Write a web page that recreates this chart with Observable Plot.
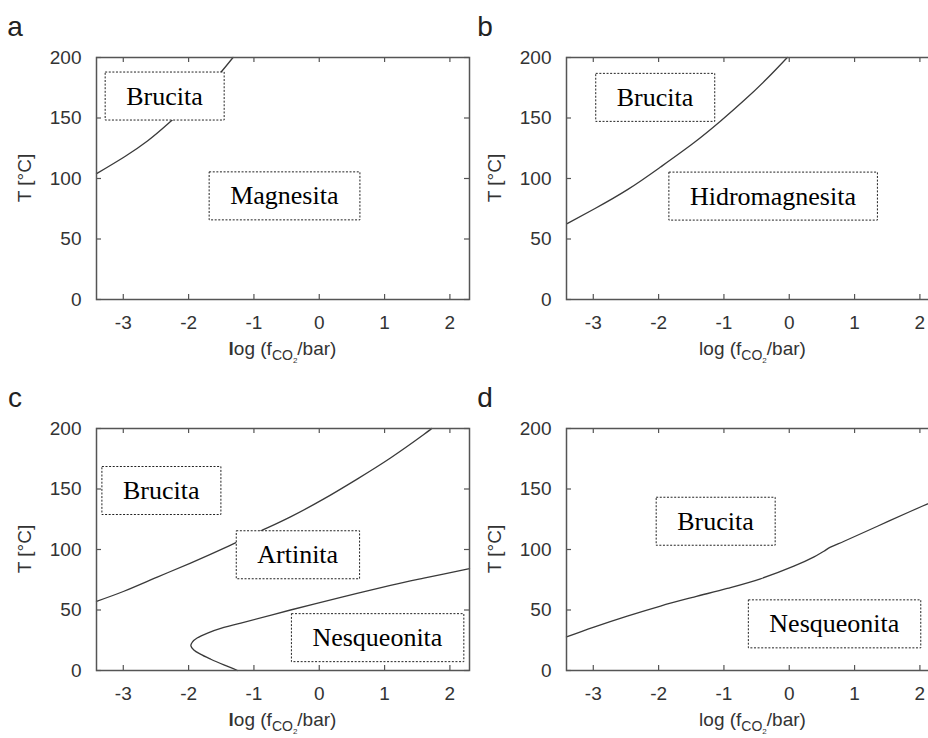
<!DOCTYPE html>
<html>
<head>
<meta charset="utf-8">
<script src="https://cdn.jsdelivr.net/npm/d3@7"></script>
<script src="https://cdn.jsdelivr.net/npm/@observablehq/plot@0.6"></script>
<style>
  html, body { margin: 0; padding: 0; background: #fff; overflow: hidden; }
  #fig { position: relative; width: 942px; height: 738px; }
  #fig svg { position: absolute; }
</style>
</head>
<body>
<div id="fig"></div>
<script>
// ---------- shared axes ----------
const xTicks = [-3, -2, -1, 0, 1, 2];
const yTicks = [0, 50, 100, 150, 200];
const xDomain = [-3.41, 2.30];
const yDomain = [0, 200];

// ---------- panel a ----------
const aCurveX = [-3.41, -2.98, -2.63, -2.32, -2.0, -1.75, -1.55, -1.32];
const aCurveT = [104, 118, 131, 145, 161, 174, 185, 200];
const aLabels = ["Brucita", "Magnesita"];
const aLabelX = [-2.37, -0.535];
const aLabelT = [168, 85.5];

// ---------- panel b ----------
const bCurveX = [-3.40, -2.98, -2.47, -1.97, -1.46, -1.05, -0.69, -0.34, -0.03];
const bCurveT = [62.7, 75, 91, 109.5, 129.5, 147.5, 164.6, 182.6, 200];
const bLabels = ["Brucita", "Hidromagnesita"];
const bLabelX = [-2.055, -0.25];
const bLabelT = [166.9, 85.3];

// ---------- panel c ----------
const cUpperX = [-3.41, -2.99, -2.48, -1.97, -1.38, -0.90, -0.44, 0.07, 0.58, 1.09, 1.60, 1.72];
const cUpperT = [57.2, 65.5, 77.2, 88.8, 103, 115.2, 127, 141.8, 158.2, 175.6, 195, 200];
const cLowerX = [-1.25, -1.46, -1.66, -1.82, -1.92, -1.965, -1.94, -1.87, -1.71, -1.46, -1.20, -0.44, 0.33, 1.09, 1.60, 2.30];
const cLowerT = [0, 4.6, 9.3, 13.5, 17.0, 20.4, 23.7, 26.8, 30.9, 35.6, 39.2, 50, 60.5, 70.3, 76.3, 84.2];
const cLabels = ["Brucita", "Artinita", "Nesqueonita"];
const cLabelX = [-2.42, -0.33, 0.89];
const cLabelT = [148.6, 95.5, 27];

// ---------- panel d ----------
const dCurveX = [-3.41, -2.99, -2.48, -1.97, -1.46, -0.95, -0.44, 0.07, 0.38, 0.53, 0.63, 0.84, 1.35, 1.86, 2.30];
const dCurveT = [27.7, 35.9, 45, 53.3, 60.7, 67.8, 75.8, 86.2, 93.9, 98.6, 101.9, 106.8, 119.2, 131.6, 142];
const dLabels = ["Brucita", "Nesqueonita"];
const dLabelX = [-1.13, 0.69];
const dLabelT = [123.2, 38.4];

// ---------- helpers ----------
const zip = (xs, ts) => xs.map((x, i) => ({x, t: ts[i]}));
const zipLabels = (names, xs, ts) => names.map((name, i) => ({name, x: xs[i], t: ts[i]}));

const SANS = "'Liberation Sans', Arial, Helvetica, sans-serif";
const SERIF = "'Liberation Serif', 'Times New Roman', serif";
const hyphen = d => String(d);

function makePanel({left, top, letter, curves, labels, boldL}) {
  const W = 472, H = 369;
  const mL = 96, mT = top === 0 ? 57 : 58;
  const frameW = 373, frameH = 242;
  const mR = W - mL - frameW, mB = H - mT - frameH;

  const plot = Plot.plot({
    width: W, height: H,
    marginLeft: mL, marginRight: mR, marginTop: mT, marginBottom: mB,
    x: {domain: xDomain},
    y: {domain: yDomain},
    style: {fontFamily: SANS, fontSize: "19px", color: "#333", background: "transparent", overflow: "visible"},
    marks: [
      Plot.axisX(xTicks, {anchor: "bottom", tickSize: 0, tickPadding: 16, label: null, fontSize: 19, fill: "#333", tickFormat: hyphen}),
      Plot.axisY(yTicks, {anchor: "left", tickSize: 0, tickPadding: 15, label: null, fontSize: 19, fill: "#333", tickFormat: hyphen}),
      // inward ticks on all four sides
      Plot.tickX(xTicks, {x: d => d, insetTop: frameH - 5, stroke: "#555", strokeWidth: 1.2}),
      Plot.tickX(xTicks, {x: d => d, insetBottom: frameH - 5, stroke: "#555", strokeWidth: 1.2}),
      Plot.tickY(yTicks, {y: d => d, insetRight: frameW - 5, stroke: "#555", strokeWidth: 1.2}),
      Plot.tickY(yTicks, {y: d => d, insetLeft: frameW - 5, stroke: "#555", strokeWidth: 1.2}),
      ...curves.map(c => Plot.line(c.data, {x: "x", y: "t", curve: c.curve, stroke: "#3a3a3a", strokeWidth: 1.3})),
      Plot.frame({stroke: "#555", strokeWidth: 1.5}),
      Plot.text(labels, {x: "x", y: "t", text: "name", fontFamily: SERIF, fontSize: 26, fill: "#000", lineAnchor: "middle", textAnchor: "middle"})
    ]
  });

  plot.style.left = left + "px";
  plot.style.top = top + "px";
  document.getElementById("fig").appendChild(plot);

  const svg = d3.select(plot);
  const svgRect = plot.getBoundingClientRect();

  // dashed boxes behind the region labels
  const textG = plot.querySelector('g[aria-label="text"]');
  if (textG) {
    const boxG = document.createElementNS("http://www.w3.org/2000/svg", "g");
    textG.parentNode.insertBefore(boxG, textG);
    textG.querySelectorAll("text").forEach(t => {
      const r = t.getBoundingClientRect();
      const cx = r.left - svgRect.left + r.width / 2;
      const cy = r.top - svgRect.top + r.height / 2;
      const bw = r.width + 42, bh = 48;
      d3.select(boxG).append("rect")
        .attr("x", cx - bw / 2).attr("y", cy - bh / 2)
        .attr("width", bw).attr("height", bh)
        .attr("fill", "#fff").attr("stroke", "#222")
        .attr("stroke-width", 1).attr("stroke-dasharray", "2,1.6");
    });
  }

  // panel letter
  svg.append("text")
    .attr("x", 15).attr("y", mT - 21)
    .attr("font-family", SANS).attr("font-size", 28).attr("fill", "#222")
    .text(letter);

  // y axis label
  svg.append("text")
    .attr("transform", `translate(${mL - 65},${mT + frameH / 2}) rotate(-90)`)
    .attr("text-anchor", "middle")
    .attr("font-family", SANS).attr("font-size", 19).attr("fill", "#333")
    .text("T [°C]");

  // x axis label with subscripts
  const xl = svg.append("text")
    .attr("x", mL + frameW / 2).attr("y", mT + frameH + 56)
    .attr("text-anchor", "middle")
    .attr("font-family", SANS).attr("font-size", 19).attr("fill", "#333");
  if (boldL) {
    xl.append("tspan").attr("font-weight", "bold").text("l");
    xl.append("tspan").text("og (f");
  } else {
    xl.append("tspan").text("log (f");
  }
  xl.append("tspan").attr("font-size", 14).attr("dy", 5).text("CO");
  xl.append("tspan").attr("font-size", 8).attr("dy", 3).text("2");
  xl.append("tspan").attr("dy", -8).text("/bar)");
}

makePanel({left: 0, top: 0, letter: "a", boldL: true,
  curves: [{data: zip(aCurveX, aCurveT), curve: "natural"}], labels: zipLabels(aLabels, aLabelX, aLabelT)});
makePanel({left: 470, top: 0, letter: "b", boldL: false,
  curves: [{data: zip(bCurveX, bCurveT), curve: "natural"}], labels: zipLabels(bLabels, bLabelX, bLabelT)});
makePanel({left: 0, top: 370, letter: "c", boldL: true,
  curves: [{data: zip(cUpperX, cUpperT), curve: "natural"}, {data: zip(cLowerX, cLowerT), curve: "catmull-rom"}],
  labels: zipLabels(cLabels, cLabelX, cLabelT)});
makePanel({left: 470, top: 370, letter: "d", boldL: false,
  curves: [{data: zip(dCurveX, dCurveT), curve: "catmull-rom"}], labels: zipLabels(dLabels, dLabelX, dLabelT)});
</script>
</body>
</html>
